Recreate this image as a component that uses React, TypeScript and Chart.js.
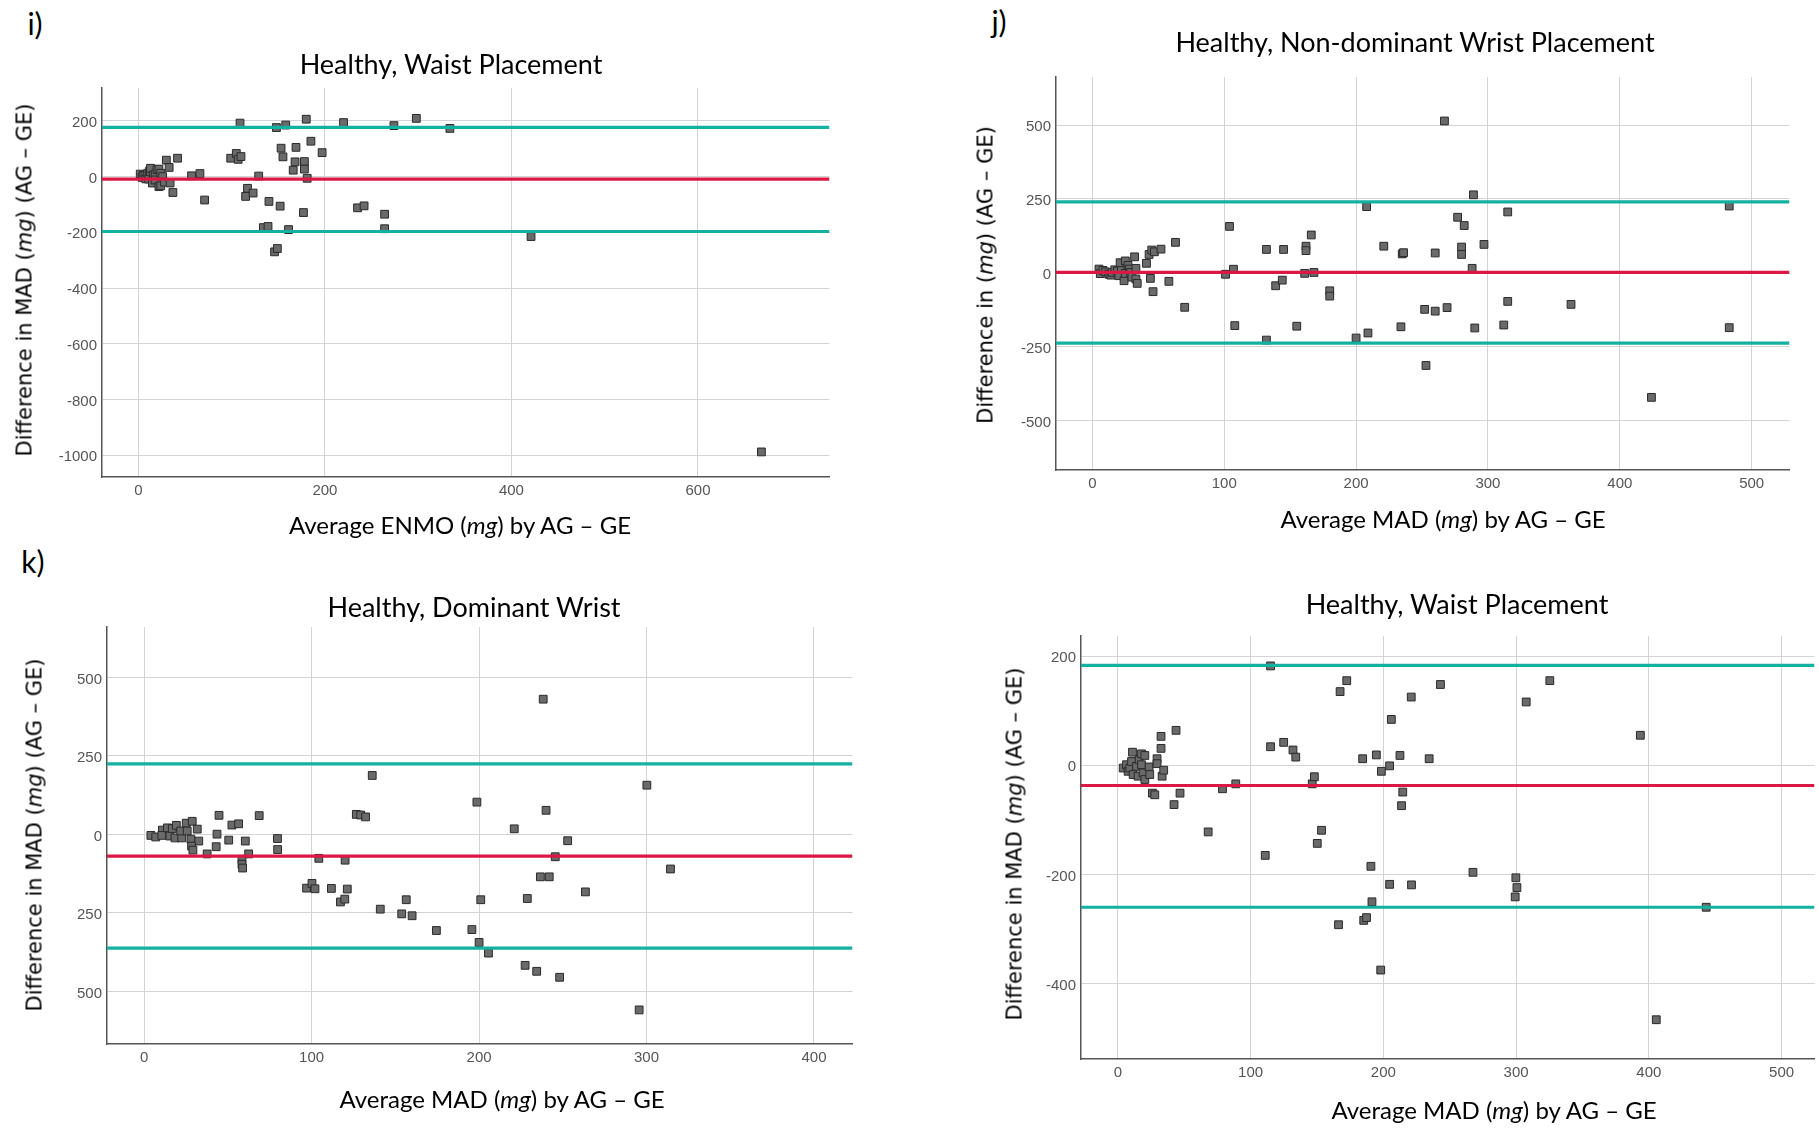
import React, { useEffect, useRef } from "react";
import { Chart, registerables } from "chart.js";

Chart.register(...registerables);

// ---------- Panel i: Healthy, Waist Placement (ENMO) ----------
const iX = [2, 4, 5, 7, 8, 10, 11, 12, 13, 13, 15, 16, 18, 18, 20, 22, 22, 24, 24, 26, 28,
  30, 33, 34, 37, 42, 57, 66, 71,
  99, 105, 107, 110, 109, 115, 117, 123, 129, 134, 139, 140, 146, 149, 148, 152, 153, 155, 158, 161, 166, 168, 169, 177, 178, 178, 180, 181, 185, 197, 220, 235, 242, 264, 264, 274, 298, 334, 421, 668];
const iY = [9, -3, 5, 3, -8, 12, -9, 20, 17, 30, -23, 5, 9, -12, 25, 27, -36, 12, -33, 0, -20,
  59, 33, -23, -57, 66, 3, 11, -84,
  66, 83, 62, 72, 192, -71, -42, -59, 2, -183, -179, -89, -270, -258, 176, -106, 102, 71, 185, -190, 23, 53, 105, -129, 54, 27, 206, -6, 127, 86, 194, -112, -105, -135, -187, 183, 209, 173, -215, -988];
const iStats = [-9, 177, -197]; // mean, upper limit, lower limit
const iXTicks = [0, 200, 400, 600];
const iYTicks = [-1000, -800, -600, -400, -200, 0, 200];

// ---------- Panel j: Healthy, Non-dominant Wrist Placement ----------
const jX = [5, 6, 8, 10, 12.5, 14, 15, 17, 19, 20, 22, 21, 25, 24, 25, 27, 28, 29, 30, 32, 33, 33, 34, 41, 43, 44, 45, 46, 47, 52, 58, 63, 70,
  101, 104, 107, 108, 132, 132, 139, 144, 145, 155, 161, 162, 162, 166, 168, 180, 180, 200, 208, 209, 221, 234, 235, 236, 252, 253, 260, 260, 267, 269, 277, 280, 280, 282, 288, 289, 290, 297, 312, 315, 315, 363, 424, 483, 483];
const jY = [12.5, -3, 8, 3, -5, -8, 1, 10, 6, -10, 15, 34, 40, -27, -2, 25, 12.5, 1, -15, 54, 15, -21, -36, 32, 62, -19, 77, -64, 71, 80, -29, 103, -117,
  -5, 157, 12, -179, 79, -228, -44, -25, 79, -181, -2, 90, 75, 128, 1, -61, -79, -221, 224, -204, 90, -183, 64, 68, -124, -314, 67, -130, 514, -118, 188, 87, 62, 160, 15, 264, -187, 96, -177, 206, -97, -107, -422, 226, -186];
const jStats = [1, 240, -238];
const jXTicks = [0, 100, 200, 300, 400, 500];
const jYTicks = [-500, -250, 0, 250, 500];

// ---------- Panel k: Healthy, Dominant Wrist ----------
const kX = [4, 6.9, 10.9, 10.5, 13.9, 15.3, 16.8, 18.4, 19.2, 22.4, 21.8, 25.1, 28.7, 25.7, 31.7, 27.9, 32.6, 28.3, 29.1, 37.6, 43, 43.5, 44.7, 50.5, 52.4, 56.4, 58.4, 58.4, 58.8, 60.4, 62.4, 68.7, 79.6, 79.7,
  97, 100.2, 102, 104.3, 111.8, 117.2, 119.8, 120, 121.3, 126.7, 129.3, 132.2, 136.2, 141, 153.8, 156.5, 160, 174.5, 195.7, 198.7, 200, 201, 205.6, 221, 227.5, 228.8, 234.4, 236.6, 238.3, 240, 241.9, 245.5, 248.1, 252.9, 263.5, 295.6, 300.2, 314.3];
const kY = [-3, -8, 14, -3, 21, -5, 19, -11, 29, -11, 11, 36, 42, 11, 17, -15, -21, -37, -50, -62, -39, 1, 61, -18, 30, 34, -79, -95, -107, -21, -62, 60, -13, -48,
  -171, -156, -173, -76, -172, -215, -206, -82, -174, 64, 62, 56, 188, -238, -253, -208, -259, -306, -303, 103, -344, -208, -378, 18, -417, -204, -436, -135, 431, 77, -135, -71, -455, -20, -183, -559, 157, -110];
const kStats = [-69, 225, -362];
const kXTicks = [0, 100, 200, 300, 400];
const kYTicks = [-500, -250, 0, 250, 500];

// ---------- Panel l: Healthy, Waist Placement (MAD) ----------
const lX = [4, 6.5, 7.7, 9, 10.3, 11, 11.5, 14, 15.2, 16, 17.8, 17.8, 19, 20.3, 20.3, 23.5, 24, 26, 27.8, 29.5, 29.5, 32.5, 32.5, 33.3, 34.5, 42.3, 43.8, 46.8,
  68, 78.8, 88.8, 111, 115, 115, 124.9, 131.9, 134, 146.4, 148, 150.2, 153.4, 166.2, 167.4, 172.4, 184.4, 185.2, 187.3, 190.6, 191.4, 194.7, 198, 198.5, 204.7, 204.7, 206, 212.5, 213.7, 214.6, 221, 221.2, 234.5, 243, 267.5, 299.3, 299.8, 300.6, 307.6, 325.4, 393.6, 405.6, 443.2];
const lY = [-5, 1, -11, -5, 7, 24, -17, -2, -20, 10, 21, 1, -14, 18, -26, -3, -17, -51, -54, 12, 3, 53, 31, -20, -9, -72, 64, -51,
  -122, -43, -34, -165, 182, 34, 42, 28, 15, -34, -21, -143, -119, -292, 135, 155, 12, -284, -279, -185, -250, 19, -375, -11, -1, -218, 84, 18, -74, -49, 125, -219, 12, 148, -196, -241, -206, -224, 116, 155, 55, -466, -260];
const lStats = [-37, 183, -260];
const lXTicks = [0, 100, 200, 300, 400, 500];
const lYTicks = [-400, -200, 0, 200];

// ---------- styles ----------
const TEAL = "#13b1a0";
const RED = "#dc1743";
const GRID = "#d3d3d3";
const AXIS = "#555555";
const TICK_FONT = "'Liberation Sans', Arial, sans-serif";
const TITLE_FONT = "Lato, 'Open Sans', sans-serif";
const YTITLE_FONT = "'DejaVu Sans', Verdana, sans-serif";

type PanelCfg = {
  xs: number[];
  ys: number[];
  stats: number[];
  xTicks: number[];
  yTicks: number[];
  plot: { l: number; t: number; r: number; b: number };
  xr: [number, number];
  yr: [number, number];
  absLabels?: boolean;
};

const PAD_L = 80;
const PAD_T = 20;
const PAD_R = 4;
const PAD_B = 45;

function Panel({ cfg }: { cfg: PanelCfg }) {
  const ref = useRef<HTMLCanvasElement>(null);
  const w = cfg.plot.r - cfg.plot.l + PAD_L + PAD_R;
  const h = cfg.plot.b - cfg.plot.t + PAD_T + PAD_B;
  useEffect(() => {
    const [xMin, xMax] = cfg.xr;
    const hline = (y: number, color: string) => ({
      data: [
        { x: xMin, y },
        { x: xMax, y },
      ],
      showLine: true,
      borderColor: color,
      backgroundColor: color,
      borderWidth: 3.2,
      pointRadius: 0,
      order: 0,
    });
    const chart = new Chart(ref.current as HTMLCanvasElement, {
      type: "scatter",
      data: {
        datasets: [
          hline(cfg.stats[1], TEAL),
          hline(cfg.stats[2], TEAL),
          hline(cfg.stats[0], RED),
          {
            data: cfg.xs.map((x, i) => ({ x, y: cfg.ys[i] })),
            pointStyle: "rect",
            pointRadius: 5.5,
            backgroundColor: "#6a6a6a",
            borderColor: "#2a2a2a",
            borderWidth: 1,
            order: 1,
          } as any,
        ],
      },
      options: {
        animation: false,
        responsive: false,
        maintainAspectRatio: false,
        layout: { padding: { left: 0, top: PAD_T, right: PAD_R, bottom: 0 } },
        plugins: { legend: { display: false }, tooltip: { enabled: false } },
        scales: {
          x: {
            type: "linear",
            min: xMin,
            max: xMax,
            bounds: "data",
            afterBuildTicks: (a: any) => {
              a.ticks = cfg.xTicks.map((v) => ({ value: v }));
            },
            afterFit: (s: any) => {
              s.height = PAD_B;
            },
            grid: { color: GRID, lineWidth: 1, drawTicks: false },
            border: { display: true, color: AXIS, width: 1.5 },
            ticks: {
              padding: 5,
              color: "#555",
              maxRotation: 0,
              autoSkip: false,
              font: { family: TICK_FONT, size: 15 },
              callback: (v: any) => String(v),
            },
          },
          y: {
            type: "linear",
            min: cfg.yr[0],
            max: cfg.yr[1],
            bounds: "data",
            afterBuildTicks: (a: any) => {
              a.ticks = cfg.yTicks.map((v) => ({ value: v }));
            },
            afterFit: (s: any) => {
              s.width = PAD_L;
            },
            grid: { color: GRID, lineWidth: 1, drawTicks: false },
            border: { display: true, color: AXIS, width: 1.5 },
            ticks: {
              padding: 5,
              labelOffset: 2,
              color: "#555",
              autoSkip: false,
              font: { family: TICK_FONT, size: 15 },
              callback: (v: any) => (cfg.absLabels ? String(Math.abs(v)) : String(v)),
            },
          },
        },
      } as any,
    });
    return () => chart.destroy();
  }, []);
  return (
    <canvas
      ref={ref}
      width={w}
      height={h}
      style={{
        position: "absolute",
        left: cfg.plot.l - PAD_L,
        top: cfg.plot.t - PAD_T,
        width: w,
        height: h,
      }}
    />
  );
}

function Text({
  x,
  y,
  children,
  font,
  size,
  rotate,
}: {
  x: number;
  y: number;
  children: React.ReactNode;
  font: string;
  size: number;
  rotate?: boolean;
}) {
  return (
    <div
      style={{
        position: "absolute",
        left: x,
        top: y,
        transform: `translate(-50%, -50%)${rotate ? " rotate(-90deg)" : ""}`,
        fontFamily: font,
        fontSize: size,
        whiteSpace: "nowrap",
        color: "#000",
        lineHeight: 1,
      }}
    >
      {children}
    </div>
  );
}

const panels: PanelCfg[] = [
  { xs: iX, ys: iY, stats: iStats, xTicks: iXTicks, yTicks: iYTicks, plot: { l: 102, t: 88, r: 832, b: 477 }, xr: [-39, 741], yr: [-1078, 318] },
  { xs: jX, ys: jY, stats: jStats, xTicks: jXTicks, yTicks: jYTicks, plot: { l: 1056, t: 77, r: 1792, b: 470 }, xr: [-27.6, 528.7], yr: [-668, 663] },
  { xs: kX, ys: kY, stats: kStats, xTicks: kXTicks, yTicks: kYTicks, plot: { l: 107, t: 627, r: 855, b: 1044 }, xr: [-22.2, 423], yr: [-667.6, 661], absLabels: true },
  { xs: lX, ys: lY, stats: lStats, xTicks: lXTicks, yTicks: lYTicks, plot: { l: 1081, t: 636, r: 1817, b: 1059 }, xr: [-27.8, 524.8], yr: [-537.9, 236.8] },
];

export default function App() {
  const ytMAD = (
    <>
      Difference in MAD (<i>mg</i>) (AG – GE)
    </>
  );
  return (
    <div
      style={{
        position: "absolute",
        left: 0,
        top: 0,
        width: 1819,
        height: 1130,
        background: "#fff",
        overflow: "hidden",
      }}
    >
      {panels.map((p, i) => (
        <Panel key={i} cfg={p} />
      ))}

      {/* panel labels */}
      <Text x={35} y={23} font={TITLE_FONT} size={30}>i)</Text>
      <Text x={999} y={21} font={TITLE_FONT} size={30}>j)</Text>
      <Text x={33} y={561} font={TITLE_FONT} size={30}>k)</Text>

      {/* titles */}
      <Text x={451} y={63} font={TITLE_FONT} size={27}>Healthy, Waist Placement</Text>
      <Text x={1415} y={41} font={TITLE_FONT} size={27}>Healthy, Non-dominant Wrist Placement</Text>
      <Text x={474} y={606} font={TITLE_FONT} size={27}>Healthy, Dominant Wrist</Text>
      <Text x={1457} y={603} font={TITLE_FONT} size={27}>Healthy, Waist Placement</Text>

      {/* x-axis titles */}
      <Text x={460} y={525} font={TITLE_FONT} size={24}>
        Average ENMO (<i>mg</i>) by AG – GE
      </Text>
      <Text x={1443} y={519} font={TITLE_FONT} size={24}>
        Average MAD (<i>mg</i>) by AG – GE
      </Text>
      <Text x={502} y={1099} font={TITLE_FONT} size={24}>
        Average MAD (<i>mg</i>) by AG – GE
      </Text>
      <Text x={1494} y={1110} font={TITLE_FONT} size={24}>
        Average MAD (<i>mg</i>) by AG – GE
      </Text>

      {/* y-axis titles */}
      <Text x={25} y={280} font={YTITLE_FONT} size={21} rotate>{ytMAD}</Text>
      <Text x={986} y={275} font={YTITLE_FONT} size={21} rotate>
        Difference in (<i>mg</i>) (AG – GE)
      </Text>
      <Text x={35} y={835} font={YTITLE_FONT} size={21} rotate>{ytMAD}</Text>
      <Text x={1015} y={844} font={YTITLE_FONT} size={21} rotate>{ytMAD}</Text>
    </div>
  );
}
